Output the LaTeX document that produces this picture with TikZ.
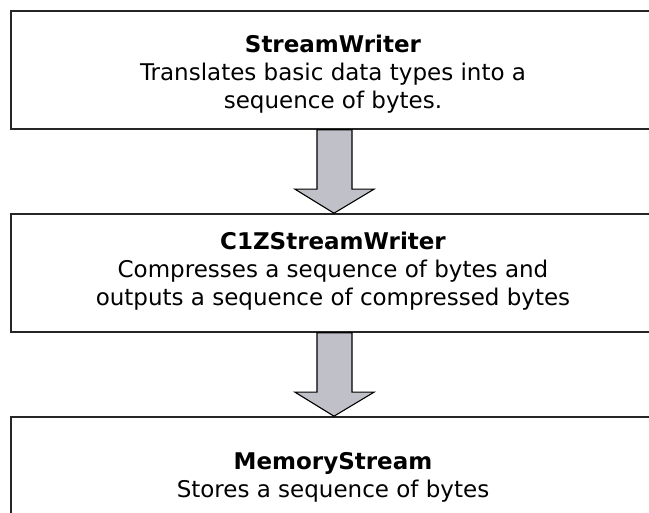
\documentclass[tikz,border=0pt]{standalone}
\usepackage{fontspec}
\setmainfont{DejaVu Sans}
\usetikzlibrary{calc}
\definecolor{arrowgray}{RGB}{192,192,200}
\begin{document}
\begin{tikzpicture}[x=1pt,y=-1pt,
  box/.style={draw=black!85, line width=1.6pt, fill=white, minimum width=646pt,
    minimum height=118pt, inner sep=0pt},
  txt/.style={anchor=base, inner sep=0pt, align=center,
    font=\fontsize{23}{28}\selectfont},
  flow/.style={draw=black, line width=1.1pt, fill=arrowgray, line join=miter}]
\fill[white] (0,0) rectangle (649,513);
\useasboundingbox (0,0) rectangle (649,513);
\node[box] (sw) at (334,70) {};
\node[box] (cz) at (334,273) {};
\node[box] (ms) at (334,476) {};
\node[txt] (swt) at (333,109) {\textbf{StreamWriter}\\Translates basic data types into a\\sequence of bytes.};
\node[txt] (czt) at (333,306) {\textbf{C1ZStreamWriter}\\Compresses a sequence of bytes and\\outputs a sequence of compressed bytes};
\node[txt] (mst) at (333,497) {\textbf{MemoryStream}\\Stores a sequence of bytes};
\foreach \a/\b in {sw/cz, cz/ms}{
  \draw[flow] ($(\a.south)+(-17,0)$) -- ($(\a.south)+(18,0)$)
    -- ($(\b.north)+(18,-24)$) -- ($(\b.north)+(40,-24)$) -- (\b.north)
    -- ($(\b.north)+(-39,-24)$) -- ($(\b.north)+(-17,-24)$) -- cycle;
}
\end{tikzpicture}
\end{document}
